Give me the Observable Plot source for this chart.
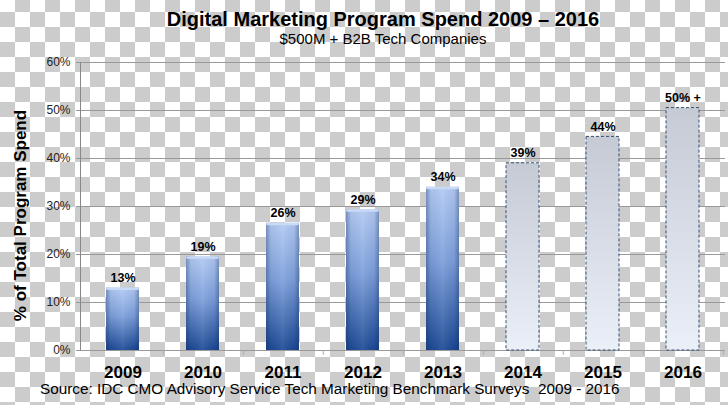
<!DOCTYPE html>
<html><head><meta charset="utf-8">
<script src="https://cdn.jsdelivr.net/npm/d3@7"></script>
<script src="https://cdn.jsdelivr.net/npm/@observablehq/plot@0.6"></script>
<style>
html,body{margin:0;padding:0;}
body{width:728px;height:405px;overflow:hidden;position:relative;font-family:"Liberation Sans",Arial,sans-serif;
background-color:#fff;background-image:repeating-conic-gradient(#cccccc 0 25%, #ffffff 0 50%);background-size:30px 30px;background-position:0 -3px;}
#chart{position:absolute;left:0;top:0;}
.t{position:absolute;white-space:pre;color:#000;line-height:1;}
#title{left:0;width:766px;text-align:center;top:9px;font-weight:bold;font-size:20px;}
#subtitle{left:0;width:766px;text-align:center;top:31px;font-size:15px;}
#caption{left:40px;top:381px;font-size:15.3px;}
</style>
</head><body>
<div id="chart"></div>
<div class="t" id="title">Digital Marketing Program Spend 2009 – 2016</div>
<div class="t" id="subtitle">$500M + B2B Tech Companies</div>
<div class="t" id="caption">Source: IDC CMO Advisory Service Tech Marketing Benchmark Surveys  2009 - 2016</div>
<script>
const years = ["2009","2010","2011","2012","2013","2014","2015","2016"];
const values = [13, 19.5, 26.5, 29.3, 34, 39, 44.5, 50.5];
const labels = ["13%","19%","26%","29%","34%","39%","44%","50% +"];
const projected = [false, false, false, false, false, true, true, true];
const yTicks = [0, 10, 20, 30, 40, 50, 60];
const yLabel = "% of Total Program Spend";

const data = years.map((y, i) => ({year: y, value: values[i], label: labels[i], projected: projected[i]}));
const actual = data.filter(d => !d.projected);
const future = data.filter(d => d.projected);

const font = '"Liberation Sans", Arial, sans-serif';

const svg = Plot.plot({
  width: 728, height: 405,
  marginLeft: 80, marginRight: 3, marginTop: 62, marginBottom: 55,
  style: {background: "transparent", fontFamily: font, overflow: "visible"},
  x: {domain: years, paddingInner: 0.59, paddingOuter: 0.295, label: null},
  y: {domain: [0, 60], label: null},
  marks: [
    Plot.gridY(yTicks, {stroke: "#999", strokeOpacity: 1}),
    Plot.frame({anchor: "left", stroke: "#888"}),
    Plot.ruleY([0], {stroke: "#999"}),
    Plot.ruleX(years, {x: d => d, y1: 0, y2: -1, dx: 40.3, stroke: "#aaa"}),
    Plot.axisY(yTicks, {tickSize: 4, tickPadding: 6, tickFormat: d => d + "%", fontSize: 12, fill: "#222", stroke: "#999", label: null}),
    Plot.axisX({tickSize: 0, tickPadding: 15, fontSize: 17, fontWeight: "bold", fill: "#000", label: null}),
    Plot.barY(actual, {x: "year", y: "value", fill: "url(#gBlue)"}),
    Plot.barY(actual, {x: "year", y: "value", fill: "url(#gEdge)"}),
    Plot.barY(actual, {x: "year", y1: d => d.value - 0.5, y2: "value", fill: "#c9daf6", rx: 2}),
    Plot.barY(future, {x: "year", y: "value", fill: "url(#gGray)", stroke: "#34506e", strokeWidth: 1, strokeDasharray: "3,2"}),
    Plot.text(data, {x: "year", y: "value", text: "label", lineAnchor: "bottom", dy: -6, fontSize: 12.5, fontWeight: "bold", fill: "#000"})
  ]
});
document.getElementById("chart").appendChild(svg);

const s = d3.select(svg);
s.insert("defs", ":first-child").html(`
  <linearGradient id="gBlue" x1="0" y1="0" x2="0" y2="1">
    <stop offset="0" stop-color="#b3caf2"/>
    <stop offset="0.45" stop-color="#7d9fdb"/>
    <stop offset="1" stop-color="#1c4994"/>
  </linearGradient>
  <linearGradient id="gEdge" x1="0" y1="0" x2="1" y2="0">
    <stop offset="0" stop-color="#0b2350" stop-opacity="0.35"/>
    <stop offset="0.15" stop-color="#0b2350" stop-opacity="0.05"/>
    <stop offset="0.5" stop-color="#ffffff" stop-opacity="0.08"/>
    <stop offset="0.85" stop-color="#0b2350" stop-opacity="0.05"/>
    <stop offset="1" stop-color="#0b2350" stop-opacity="0.35"/>
  </linearGradient>
  <linearGradient id="gGray" x1="0" y1="0" x2="0" y2="1">
    <stop offset="0" stop-color="#c5cad5"/>
    <stop offset="1" stop-color="#eaeff8"/>
  </linearGradient>`);

s.append("text")
  .attr("transform", "translate(26,215.5) rotate(-90)")
  .attr("text-anchor", "middle")
  .attr("font-family", font)
  .attr("font-size", 17)
  .attr("font-weight", "bold")
  .attr("fill", "#000")
  .text(yLabel);
</script>
</body></html>
